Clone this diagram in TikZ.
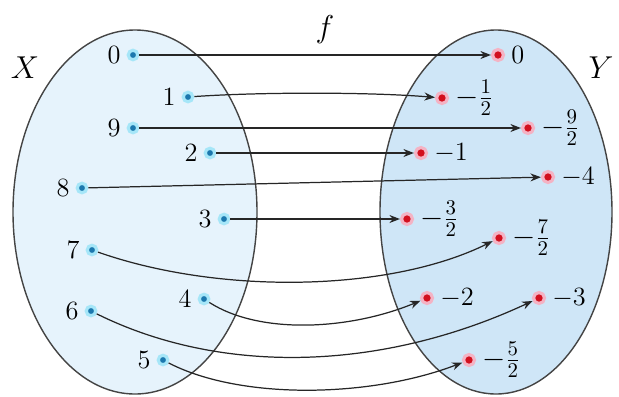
\documentclass[tikz,border=0pt]{standalone}
\usepackage{fix-cm}
\usepackage{tikz}
\usetikzlibrary{arrows.meta}
\definecolor{leftfill}{HTML}{E6F3FC}
\definecolor{rightfill}{HTML}{CFE6F7}
\definecolor{setedge}{HTML}{444444}
\definecolor{xblue}{HTML}{1C78AE}
\definecolor{xhalo}{HTML}{A6E6F8}
\definecolor{yred}{HTML}{D2101E}
\definecolor{yhalo}{HTML}{F4B3C4}
\tikzset{
    mapset/.style={draw=setedge, line width=0.8pt},
    xdot/.style={circle, fill=xblue, draw=xhalo, line width=1.8pt, minimum size=0.19cm, inner sep=0pt, label distance=0pt},
    ydot/.style={circle, fill=yred, draw=yhalo, line width=1.8pt, minimum size=0.22cm, inner sep=0pt, label distance=0pt},
    maparrow/.style={draw=black!85, line width=0.7pt, -{Stealth[length=2.1mm, width=1.6mm]}},
    setname/.style={font=\fontsize{18}{20}\selectfont, inner sep=0pt},
    fraclabel/.style={font=\fontsize{17}{20}\selectfont}
}

\begin{document}
\begin{tikzpicture}[x=0.02cm, y=-0.02cm, every label/.append style={font=\fontsize{15}{18}\selectfont}]
    \useasboundingbox (0,0) rectangle (619,396);
    % the two sets
    \draw[mapset, fill=leftfill] (135,212) ellipse [x radius=122, y radius=182];
    \draw[mapset, fill=rightfill] (496,212) ellipse [x radius=116, y radius=182];
    \node[setname] (xname) at (25,68) {$X$};
    \node[setname] (yname) at (601,68) {$Y$};
    \node[setname] (fname) at (325,30) {$f$};

    % elements of X
    \node[xdot, label=left:$0$] (x0) at (133,55) {};
    \node[xdot, label=left:$1$] (x1) at (188,97) {};
    \node[xdot, label=left:$9$] (x9) at (133,128) {};
    \node[xdot, label=left:$2$] (x2) at (210,153) {};
    \node[xdot, label=left:$8$] (x8) at (82,188) {};
    \node[xdot, label=left:$3$] (x3) at (224,219) {};
    \node[xdot, label=left:$7$] (x7) at (92,250) {};
    \node[xdot, label=left:$4$] (x4) at (204,299) {};
    \node[xdot, label=left:$6$] (x6) at (91,311) {};
    \node[xdot, label=left:$5$] (x5) at (163,360) {};

    % elements of Y
    \node[ydot, label=right:$0$] (y0) at (498,55) {};
    \node[ydot, label={[fraclabel]right:$-\frac{1}{2}$}] (y1) at (442,98) {};
    \node[ydot, label={[fraclabel]right:$-\frac{9}{2}$}] (y9) at (528,128) {};
    \node[ydot, label=right:$-1$] (y2) at (421,153) {};
    \node[ydot, label=right:$-4$] (y8) at (548,177) {};
    \node[ydot, label={[fraclabel]right:$-\frac{3}{2}$}] (y3) at (407,219) {};
    \node[ydot, label={[fraclabel]right:$-\frac{7}{2}$}] (y7) at (499,238) {};
    \node[ydot, label=right:$-2$] (y4) at (427,298) {};
    \node[ydot, label=right:$-3$] (y6) at (539,298) {};
    \node[ydot, label={[fraclabel]right:$-\frac{5}{2}$}] (y5) at (469,360) {};

    % the map
    \draw[maparrow] (x0) -- (y0);
    \draw[maparrow] (x1) .. controls (260,92) and (370,92) .. (y1);
    \draw[maparrow] (x9) -- (y9);
    \draw[maparrow] (x2) -- (y2);
    \draw[maparrow] (x8) -- (y8);
    \draw[maparrow] (x3) -- (y3);
    \draw[maparrow] (x7) .. controls (220,295) and (390,292) .. (y7);
    \draw[maparrow] (x4) .. controls (260,335) and (350,330) .. (y4);
    \draw[maparrow] (x6) .. controls (220,375) and (380,372) .. (y6);
    \draw[maparrow] (x5) .. controls (240,400) and (370,398) .. (y5);
\end{tikzpicture}
\end{document}
